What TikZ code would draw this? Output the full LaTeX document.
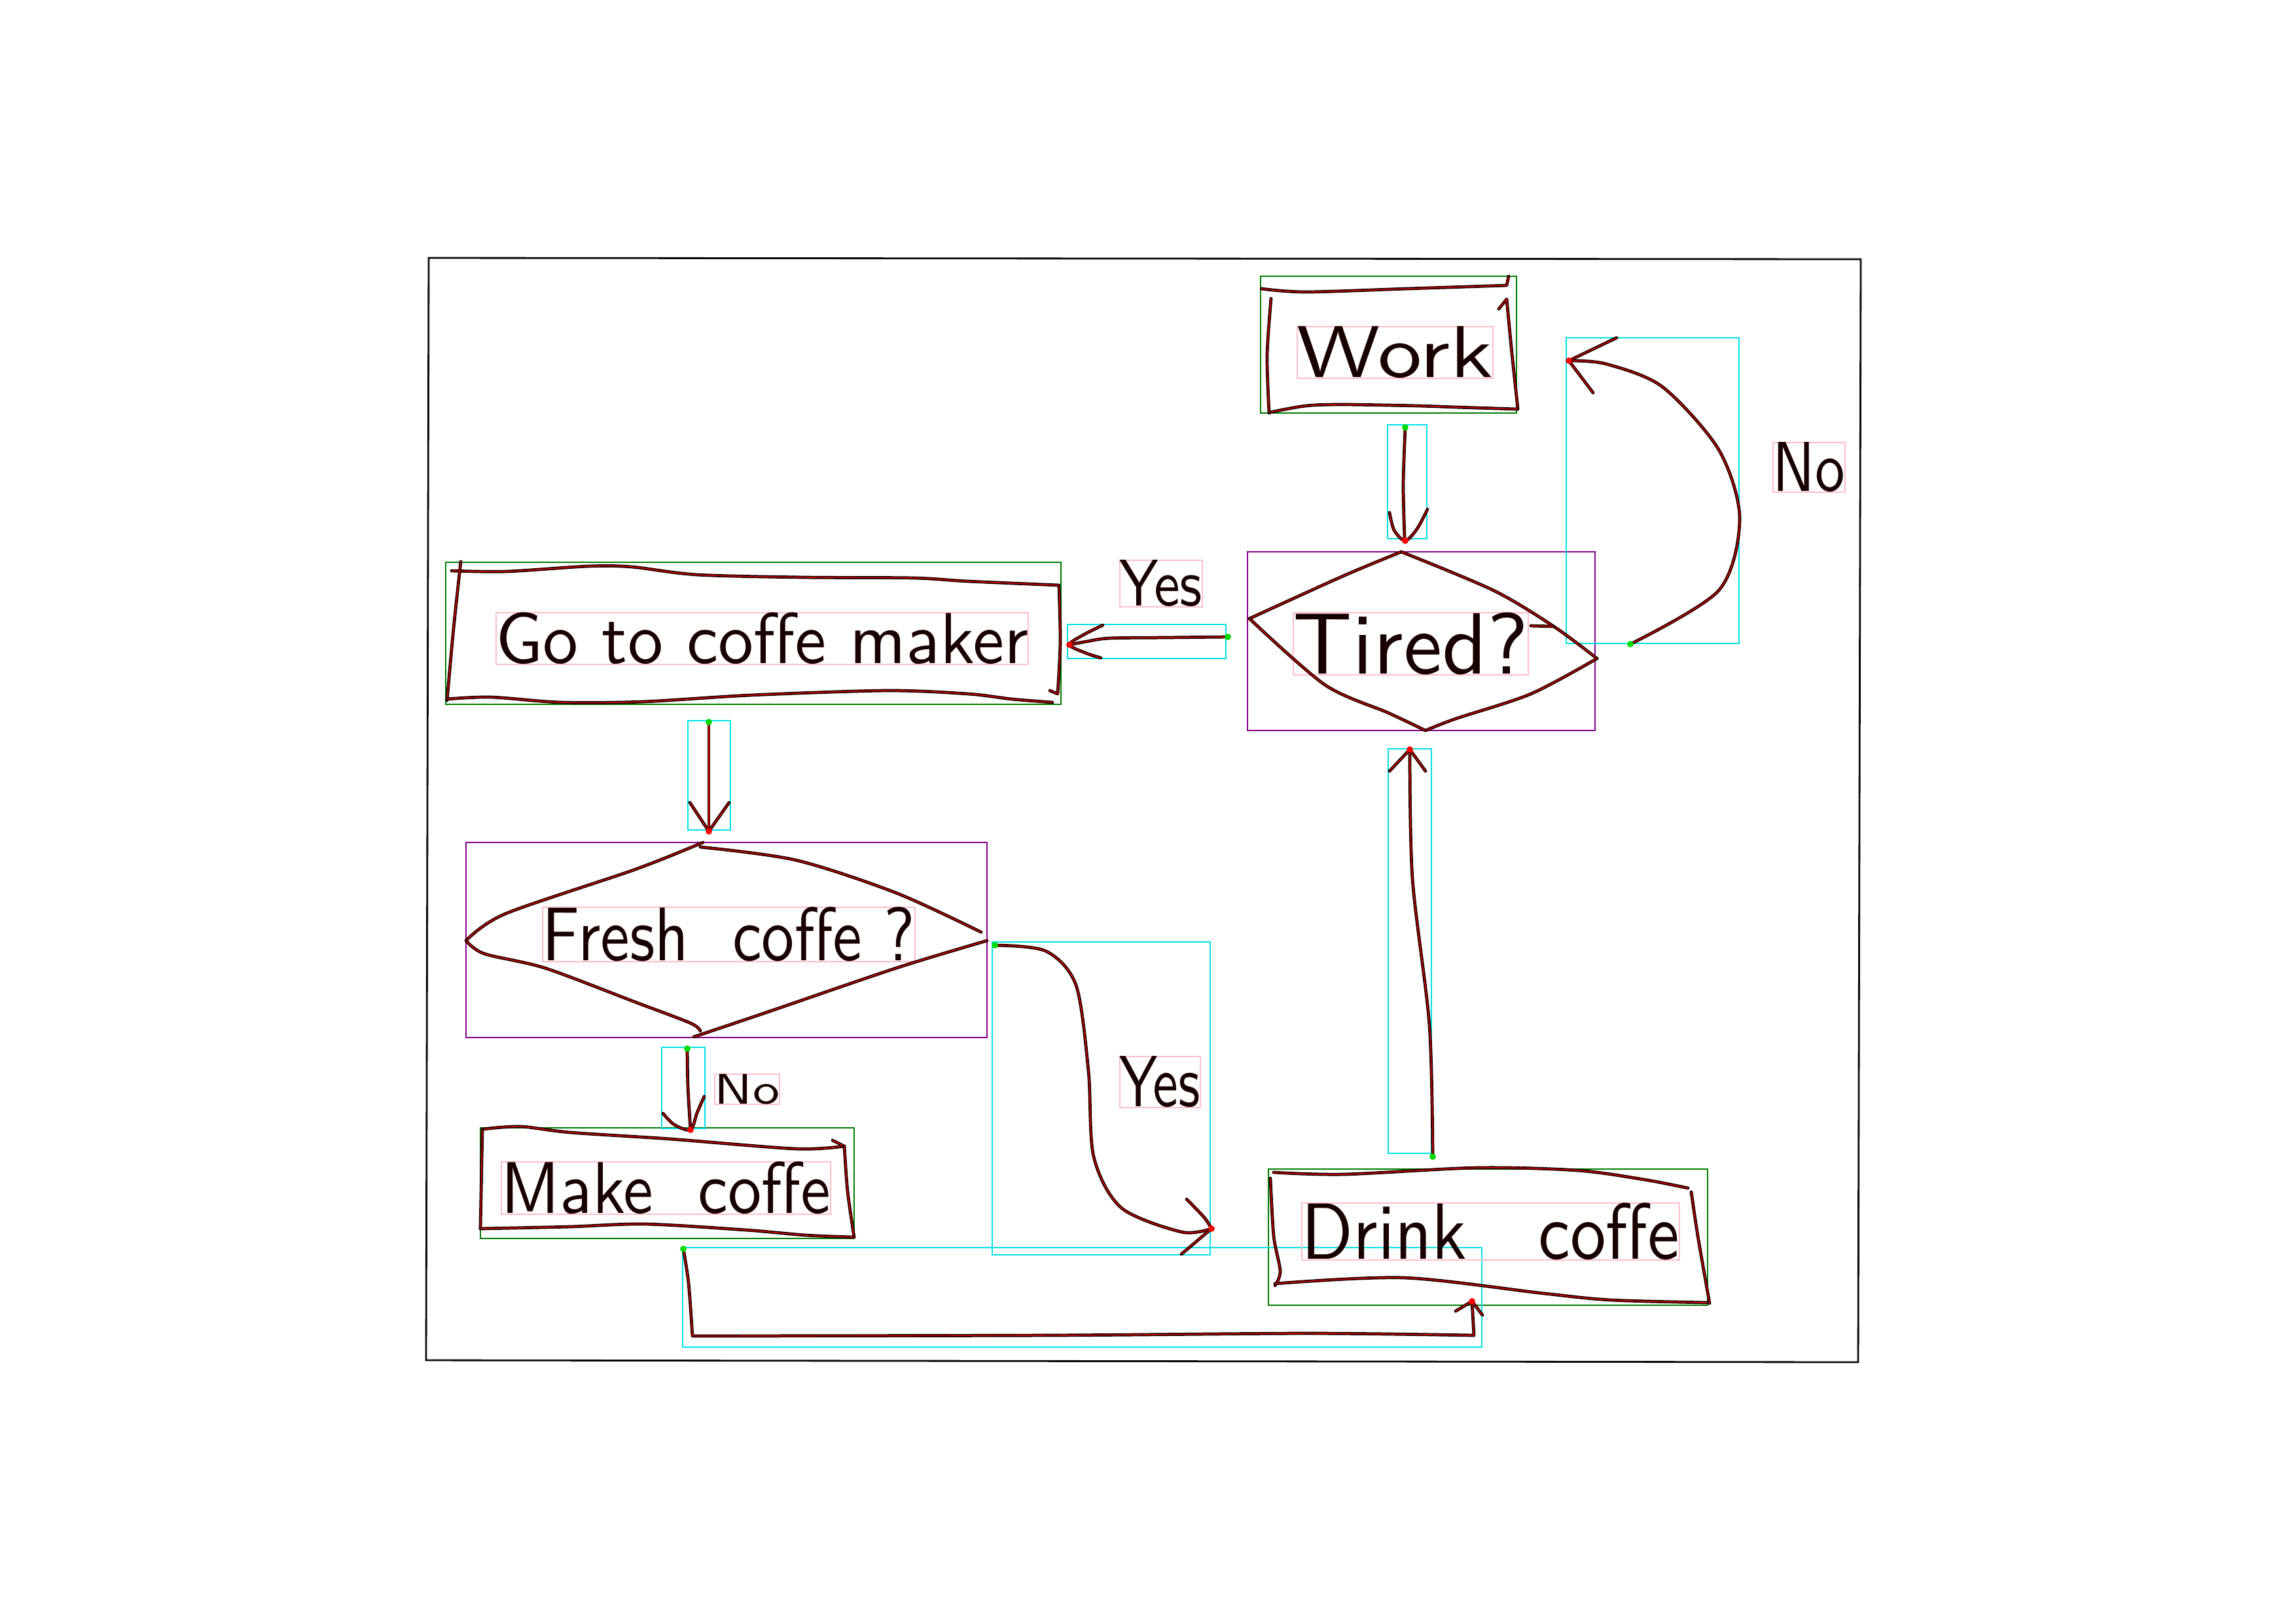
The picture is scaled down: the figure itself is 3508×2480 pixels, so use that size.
\documentclass[tikz,border=0pt]{standalone}
\usepackage{fontspec}
\usetikzlibrary{calc}
\definecolor{ink}{RGB}{25,0,0}
\definecolor{inkred}{RGB}{225,0,0}
\definecolor{boxgreen}{RGB}{0,125,0}
\definecolor{boxpurple}{RGB}{140,0,140}
\definecolor{boxcyan}{RGB}{0,225,230}
\definecolor{boxpink}{RGB}{255,190,200}
\definecolor{framecol}{RGB}{10,10,10}
\tikzset{
  hand/.style={draw=ink, line width=1.35pt, line cap=round, line join=round,
               postaction={draw=inkred, line width=0.4pt}},
  framebox/.style={draw=framecol, line width=0.8pt},
  gbox/.style={draw=boxgreen, line width=0.4pt},
  mbox/.style={draw=boxpurple, line width=0.4pt},
  cbox/.style={draw=boxcyan, line width=0.4pt},
  pbox/.style={draw=boxpink, line width=0.35pt},
  lbl/.style={inner sep=0pt, outer sep=0pt, text=ink, font=\sffamily},
  sdot/.style={fill=green!85!black},
  edot/.style={fill=red},
}
\begin{document}
\begin{tikzpicture}[x=0.01cm,y=-0.01cm]
\useasboundingbox (0,0) rectangle (3508,2480);
\fill[white] (0,0) rectangle (3508,2480);

% outer frame
\draw[framebox] (655,394) -- (2843,396) -- (2839,2081) -- (651,2078) -- cycle;

% ---------- annotation rectangles ----------
\draw[gbox] (1926,422) rectangle (2317,631);
\draw[gbox] (681,859) rectangle (1621,1076);
\draw[gbox] (734,1723) rectangle (1305,1892);
\draw[gbox] (1938,1786) rectangle (2609,1994);
\draw[mbox] (1906,843) rectangle (2437,1116);
\draw[mbox] (712,1287) rectangle (1508,1585);
\draw[cbox] (2120,649) rectangle (2180,823);
\draw[cbox] (1631,954) rectangle (1873,1006);
\draw[cbox] (2393,516) rectangle (2657,983);
\draw[cbox] (1051,1101) rectangle (1116,1268);
\draw[cbox] (1011,1600) rectangle (1077,1724);
\draw[cbox] (1516,1439) rectangle (1849,1917);
\draw[cbox] (1043,1906) rectangle (2264,2058);
\draw[cbox] (2121,1144) rectangle (2187,1762);
\draw[pbox] (1982,499) rectangle (2281,578);
\draw[pbox] (1976,936) rectangle (2335,1031);
\draw[pbox] (758,936) rectangle (1571,1015);
\draw[pbox] (829,1386) rectangle (1398,1469);
\draw[pbox] (766,1775) rectangle (1269,1855);
\draw[pbox] (1989,1838) rectangle (2566,1925);
\draw[pbox] (1711,856) rectangle (1837,927);
\draw[pbox] (2709,676) rectangle (2819,752);
\draw[pbox] (1092,1641) rectangle (1191,1687);
\draw[pbox] (1711,1614) rectangle (1834,1692);

% ---------- Work box ----------
\draw[hand] plot[smooth] coordinates {(1927,441) (1995,446) (2150,441) (2302,436)} -- (2305,422);
\draw[hand] plot[smooth] coordinates {(1942,456) (1936,543) (1939,631)};
\draw[hand] (2290,472) -- plot[smooth] coordinates {(2302,457) (2310,540) (2319,624)};
\draw[hand] plot[smooth] coordinates {(1940,630) (1995,620) (2052,618) (2167,620) (2224,622) (2319,625)};
\node[lbl] (tWork) at (2131.5,538.5) {\resizebox*{2.99cm}{0.79cm}{Work}};

% ---------- Tired diamond ----------
\draw[hand] plot[smooth] coordinates {(1909,945) (2052,880) (2141,843)};
\draw[hand] plot[smooth] coordinates {(2141,843) (2282,902) (2374,957) (2440,1006)};
\draw[hand] (2339,956) -- (2374,957);
\draw[hand] plot[smooth] coordinates {(2440,1006) (2339,1060) (2224,1098) (2178,1116)};
\draw[hand] plot[smooth] coordinates {(2178,1116) (2121,1089) (2024,1046) (1909,945)};
\node[lbl] (tTired) at (2155.5,983.5) {\resizebox*{3.59cm}{0.95cm}{Tired?}};

% ---------- Go to coffe maker box ----------
\draw[hand] plot[smooth] coordinates {(690,872) (774,873) (899,865) (965,866) (1065,878) (1230,882) (1396,883) (1479,888) (1618,894)};
\draw[hand] plot[smooth] coordinates {(704,858) (693,960) (683,1070)};
\draw[hand] plot[smooth] coordinates {(1618,897) (1620,980) (1616,1060)} -- (1604,1055);
\draw[hand] plot[smooth] coordinates {(683,1068) (750,1065) (857,1073) (982,1072) (1147,1062) (1355,1055) (1479,1060) (1546,1068) (1608,1073)};
\node[lbl] (tGo) at (1164.5,975.5) {\resizebox*{8.13cm}{0.79cm}{Go to coffe maker}};

% ---------- Fresh coffe diamond ----------
\draw[hand] plot[smooth] coordinates {(1074,1287) (971,1328) (772,1396) (712,1437)};
\draw[hand] plot[smooth] coordinates {(1070,1294) (1216,1314) (1369,1364) (1499,1424)};
\draw[hand] plot[smooth] coordinates {(712,1437) (740,1457) (833,1479) (971,1531) (1055,1563) (1070,1575)};
\draw[hand] plot[smooth] coordinates {(1060,1584) (1170,1547) (1369,1479) (1508,1437)};
\node[lbl] (tFresh) at (1113.5,1427.5) {\resizebox*{5.69cm}{0.83cm}{Fresh\ \ coffe ?}};

% ---------- Make coffe box ----------
\draw[hand] plot[smooth] coordinates {(737,1725) (795,1721) (871,1730) (1024,1740) (1216,1755) (1290,1751)};
\draw[hand] (1272,1742) -- (1290,1751);
\draw[hand] (737,1725) -- (734,1877);
\draw[hand] plot[smooth] coordinates {(1290,1751) (1295,1820) (1305,1890)};
\draw[hand] plot[smooth] coordinates {(734,1877) (871,1874) (986,1870) (1139,1879) (1231,1887) (1305,1890)};
\node[lbl] (tMake) at (1017.5,1815) {\resizebox*{5.03cm}{0.80cm}{Make\ \ coffe}};

% ---------- Drink coffe box ----------
\draw[hand] plot[smooth] coordinates {(1946,1791) (2053,1794) (2257,1784) (2410,1788) (2512,1802) (2579,1815)};
\draw[hand] plot[smooth] coordinates {(1941,1800) (1946,1888) (1956,1942) (1948,1964)};
\draw[hand] plot[smooth] coordinates {(2584,1821) (2594,1888) (2612,1991)};
\draw[hand] plot[smooth] coordinates {(1948,1961) (2145,1952) (2359,1976) (2461,1986) (2609,1990)};
\node[lbl] (tDrink) at (2277.5,1881.5) {\resizebox*{5.77cm}{0.87cm}{Drink\ \ \ coffe}};

% ---------- connector labels ----------
\node[lbl] (lYes1) at (1774,891.5) {\resizebox*{1.26cm}{0.71cm}{Yes}};
\node[lbl] (lNo1) at (2764,714) {\resizebox*{1.10cm}{0.76cm}{No}};
\node[lbl] (lNo2) at (1141.5,1664) {\resizebox*{0.99cm}{0.46cm}{No}};
\node[lbl] (lYes2) at (1772.5,1653) {\resizebox*{1.23cm}{0.78cm}{Yes}};

% ---------- connector end points ----------
\coordinate (c1s) at (2147,653);  \coordinate (c1e) at (2147,826);
\coordinate (c2s) at (1876,973);  \coordinate (c2e) at (1634,985);
\coordinate (c3s) at (2491,984);  \coordinate (c3e) at (2397,551);
\coordinate (c4s) at (1083,1103); \coordinate (c4e) at (1083,1270);
\coordinate (c5s) at (1050,1602); \coordinate (c5e) at (1055,1726);
\coordinate (c6s) at (1520,1444); \coordinate (c6e) at (1851,1877);
\coordinate (c7s) at (1044,1908); \coordinate (c7e) at (2249,1988);
\coordinate (c8s) at (2189,1767); \coordinate (c8e) at (2154,1145);

% Work -> Tired
\draw[hand] plot[smooth] coordinates {(c1s) (2144,740) (2146,822)};
\draw[hand] plot[smooth] coordinates {(2123,783) (2130,810) (c1e) (2165,808) (2181,778)};
% Tired -> Go (Yes)
\draw[hand] plot[smooth] coordinates {(c2s) (1780,974) (1695,975) (1660,980) (c2e)};
\draw[hand] plot[smooth] coordinates {(1685,955) (1655,970) (c2e) (1660,998) (1682,1005)};
% Tired -> Work (No)
\draw[hand] plot[smooth] coordinates {(c3s) (2626,902) (2658,792) (2626,687) (2540,591) (2454,556) (c3e)};
\draw[hand] (2470,516) -- (c3e) -- (2434,600);
% Go -> Fresh
\draw[hand] (c4s) -- (c4e);
\draw[hand] (1054,1226) -- (c4e) -- (1114,1226);
% Fresh -> Make (No)
\draw[hand] plot[smooth] coordinates {(c5s) (1051,1660) (c5e)};
\draw[hand] plot[smooth] coordinates {(1013,1701) (1030,1718) (c5e) (1065,1700) (1076,1675)};
% Fresh -> Drink (Yes)
\draw[hand] plot[smooth] coordinates {(c6s) (1598,1453) (1644,1505) (1663,1636) (1671,1767) (1713,1845) (1805,1882) (c6e)};
\draw[hand] plot[smooth] coordinates {(1813,1832) (1840,1860) (c6e)} -- (1805,1916);
% Make -> Drink
\draw[hand] plot[smooth] coordinates {(c7s) (1052,1960) (1058,2041)} -- plot[smooth] coordinates {(1058,2041) (1600,2040) (2000,2037) (2252,2040)} -- (c7e);
\draw[hand] (2224,2003) -- (c7e) -- (2265,2009);
% Drink -> Tired
\draw[hand] plot[smooth] coordinates {(c8s) (2184,1567) (2158,1342) (c8e)};
\draw[hand] (2123,1178) -- (c8e) -- (2178,1178);

% start / end dots
\foreach \p in {c1s,c2s,c3s,c4s,c5s,c6s,c7s,c8s} \fill[sdot] (\p) circle (1.4pt);
\foreach \p in {c1e,c2e,c3e,c4e,c5e,c6e,c7e,c8e} \fill[edot] (\p) circle (1.4pt);
\end{tikzpicture}
\end{document}
